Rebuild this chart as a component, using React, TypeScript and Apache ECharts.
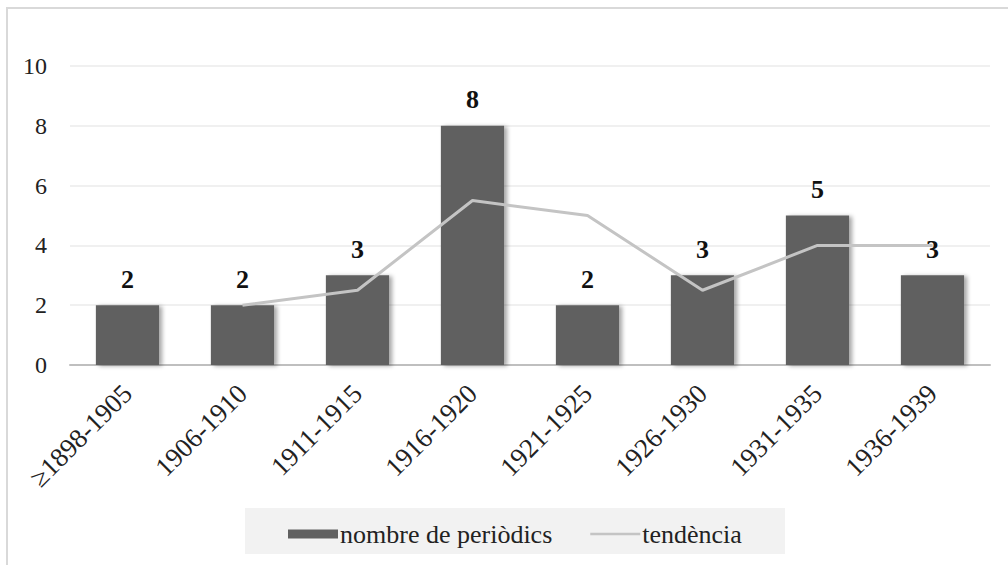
import React, { useEffect, useRef } from "react";
import * as echarts from "echarts";

const categories = ["≥1898-1905", "1906-1910", "1911-1915", "1916-1920", "1921-1925", "1926-1930", "1931-1935", "1936-1939"];
const periodics = [2, 2, 3, 8, 2, 3, 5, 3];
const trend: (number | null)[] = [null, 2, 2.5, 5.5, 5, 2.5, 4, 4];
const yTicks = [0, 2, 4, 6, 8, 10];

const FONT = "Liberation Serif";

export default function App() {
  const ref = useRef<HTMLDivElement>(null);
  useEffect(() => {
    if (!ref.current) return;
    const chart = echarts.init(ref.current, null, { renderer: "svg" });
    chart.setOption({
      animation: false,
      backgroundColor: "#ffffff",
      textStyle: { fontFamily: FONT },
      graphic: [
        {
          type: "rect",
          shape: { x: 7, y: 8, width: 1010, height: 570 },
          style: { fill: "none", stroke: "#d9d9d9", lineWidth: 2 },
          silent: true,
        },
        {
          type: "rect",
          shape: { x: 245, y: 508, width: 540, height: 46 },
          style: { fill: "#f2f2f2" },
          silent: true,
          z: -1,
        },
      ],
      grid: { left: 70, right: 18, top: 66, bottom: 200, containLabel: false },
      legend: {
        top: 516,
        left: 283,
        itemGap: 38,
        itemWidth: 50,
        itemHeight: 9,
        textStyle: { fontFamily: FONT, fontSize: 26, color: "#222", padding: [0, 0, 0, -3] },
        data: [
          { name: "nombre de periòdics", icon: "rect" },
          { name: "tendència", icon: "path://M0,0 L50,0 L50,2.4 L0,2.4 Z" },
        ],
      },
      xAxis: {
        type: "category",
        data: categories,
        axisTick: { show: false },
        axisLine: { lineStyle: { color: "#bfbfbf", width: 2 } },
        axisLabel: {
          rotate: 45,
          interval: 0,
          fontFamily: FONT,
          fontSize: 27,
          color: "#222",
          margin: 24,
        },
      },
      yAxis: {
        type: "value",
        min: 0,
        max: 10,
        interval: 2,
        axisLine: { show: false },
        axisTick: { show: false },
        splitLine: { lineStyle: { color: "#f0f0f0", width: 2 } },
        axisLabel: {
          fontFamily: FONT,
          fontSize: 24,
          color: "#222",
          margin: 23,
          formatter: (v: number) => (yTicks.includes(v) ? String(v) : ""),
        },
      },
      series: [
        {
          name: "nombre de periòdics",
          type: "bar",
          data: periodics,
          barWidth: "55%",
          itemStyle: {
            color: "#606060",
            shadowColor: "rgba(0,0,0,0.35)",
            shadowBlur: 4,
            shadowOffsetX: 3,
            shadowOffsetY: 1,
          },
          label: {
            show: true,
            position: "top",
            distance: 13,
            fontFamily: FONT,
            fontWeight: "bold",
            fontSize: 26,
            color: "#111",
          },
        },
        {
          name: "tendència",
          type: "line",
          data: trend,
          symbol: "none",
          lineStyle: { color: "#c4c4c4", width: 3 },
          itemStyle: { color: "#c4c4c4" },
          z: 3,
        },
      ],
    });
    return () => chart.dispose();
  }, []);
  return (
    <div
      ref={ref}
      style={{ position: "fixed", left: 0, top: 0, width: 1008, height: 565 }}
    />
  );
}
